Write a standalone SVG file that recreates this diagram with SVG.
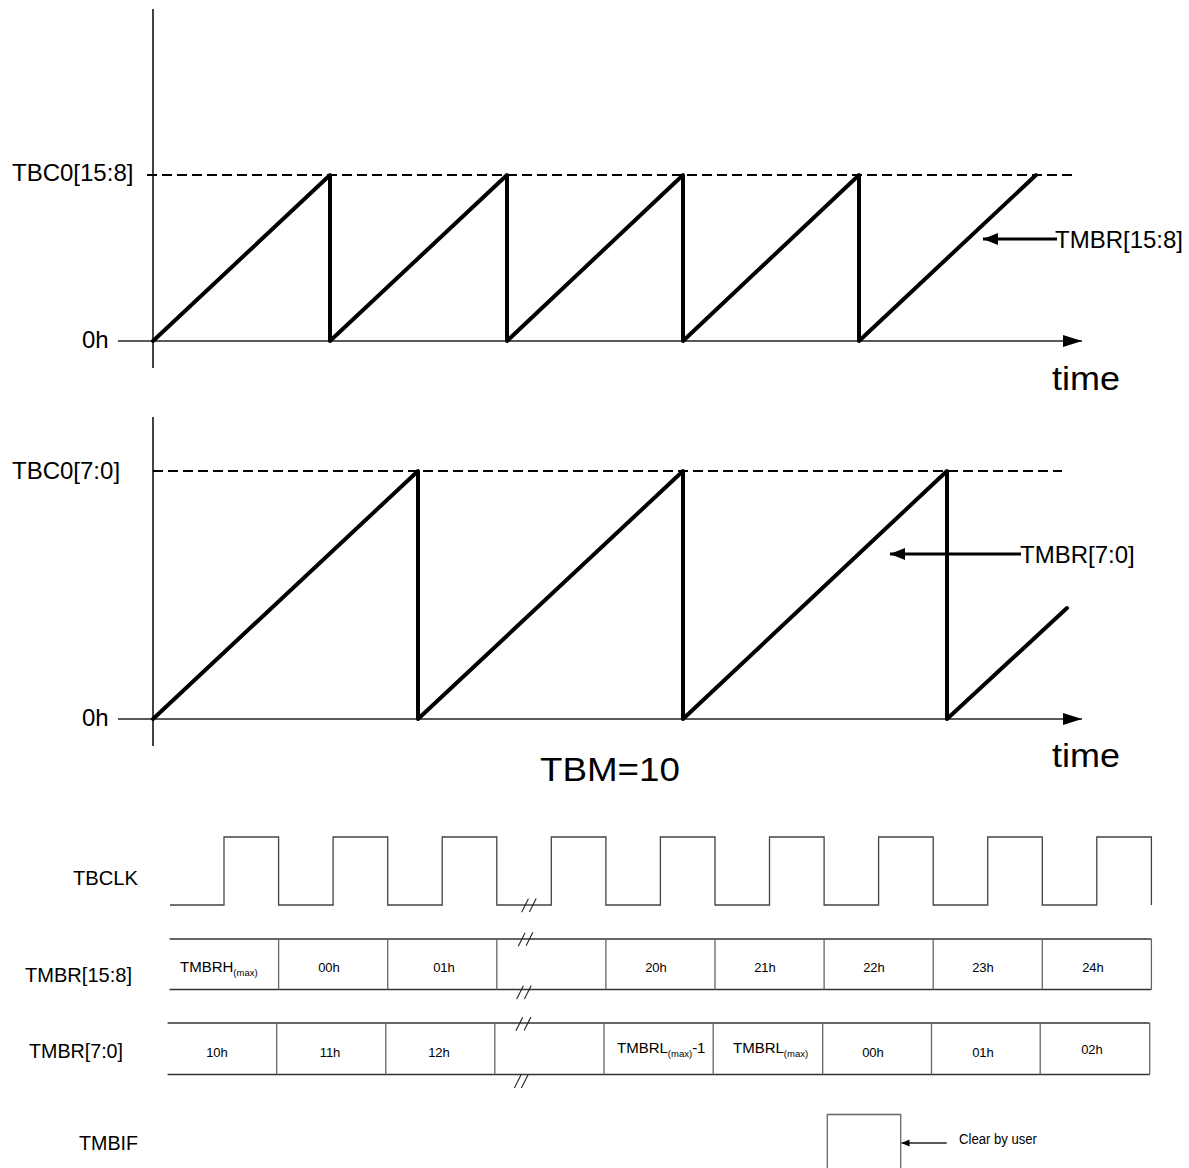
<svg xmlns="http://www.w3.org/2000/svg" width="1189" height="1168" viewBox="0 0 1189 1168">
<style>
text{font-family:"Liberation Sans",Arial,sans-serif;fill:#000}
.ax{stroke:#222;stroke-width:1.7;fill:none}
.dash{stroke:#000;stroke-width:2;stroke-dasharray:10 5;fill:none}
.saw{stroke:#000;stroke-width:4;fill:none;stroke-linejoin:round;stroke-linecap:round}
.lbl{font-size:24px}
.big{font-size:34px}
.sig{stroke:#444;stroke-width:1.3;fill:none}
.bus{stroke:#333;stroke-width:1.3;fill:none}
.div{stroke:#666;stroke-width:1.3;fill:none}
.brk{stroke:#222;stroke-width:1.1;fill:none}
.cell{font-size:13px;text-anchor:middle}
.name{font-size:21px}
</style>
<defs>
<marker id="axArrow" markerUnits="userSpaceOnUse" markerWidth="20" markerHeight="14" refX="19" refY="6" orient="auto"><path d="M0,0 L19,6 L0,12 z" fill="#000"/></marker>
<marker id="lblArrow" markerUnits="userSpaceOnUse" markerWidth="16" markerHeight="14" refX="15" refY="6" orient="auto"><path d="M0,0 L15,6 L0,12 z" fill="#000"/></marker>
<marker id="smArrow" markerUnits="userSpaceOnUse" markerWidth="9" markerHeight="8" refX="8" refY="3.5" orient="auto"><path d="M0,0 L8,3.5 L0,7 z" fill="#000"/></marker>
<path id="slash" d="M-3.4,6.8 L3.4,-6.8"/>
</defs>

<g id="chart-high">
<line class="ax" x1="153" y1="9" x2="153" y2="368"/>
<line class="ax" x1="118" y1="341" x2="1082" y2="341" marker-end="url(#axArrow)"/>
<line class="dash" x1="147" y1="175" x2="1072" y2="175"/>
<polyline class="saw" points="153,341 330,175 330,341 507,175 507,341 683,175 683,341 859,175 859,341 1036,175"/>
<text class="lbl" x="12" y="181">TBC0[15:8]</text>
<text class="lbl" x="82" y="348">0h</text>
<text class="big" x="1052" y="390" textLength="68" lengthAdjust="spacingAndGlyphs">time</text>
</g>

<g id="chart-low">
<line class="ax" x1="153" y1="417" x2="153" y2="746"/>
<line class="ax" x1="118" y1="719" x2="1082" y2="719" marker-end="url(#axArrow)"/>
<line class="dash" x1="153" y1="471" x2="1062" y2="471"/>
<polyline class="saw" points="153,719 418,471 418,719 683,471 683,719 947,471 947,719 1067,608"/>
<text class="lbl" x="12" y="479">TBC0[7:0]</text>
<text class="lbl" x="82" y="726">0h</text>
<text class="big" x="1052" y="767" textLength="68" lengthAdjust="spacingAndGlyphs">time</text>
<text class="big" x="540" y="781" textLength="140" lengthAdjust="spacingAndGlyphs">TBM=10</text>
</g>

<g id="connectors">
<line x1="1057" y1="239" x2="983" y2="239" stroke="#000" stroke-width="3" marker-end="url(#lblArrow)"/>
<line x1="1021" y1="554" x2="890" y2="554" stroke="#000" stroke-width="3" marker-end="url(#lblArrow)"/>
<line x1="946.7" y1="1143" x2="901.5" y2="1143" stroke="#222" stroke-width="1.3" marker-end="url(#smArrow)"/>
</g>

<g id="label-tmbr-high"><text class="lbl" x="1055" y="248">TMBR[15:8]</text></g>
<g id="label-tmbr-low"><text class="lbl" x="1020" y="563">TMBR[7:0]</text></g>

<g id="tbclk">
<text class="name" x="73" y="885" textLength="65" lengthAdjust="spacingAndGlyphs">TBCLK</text>
<path class="sig" d="M170,905 H224 V837 H278.6 V905 H333.1 V837 H387.7 V905 H442.2 V837 H496.8 V905 H551.3 V837 H605.9 V905 H660.4 V837 H715 V905 H769.5 V837 H824.1 V905 H878.6 V837 H933.2 V905 H987.7 V837 H1042.3 V905 H1096.8 V837 H1151.4 V905"/>
<g class="brk"><use href="#slash" x="525" y="905.5"/><use href="#slash" x="532.8" y="905.3"/></g>
</g>

<g id="tmbr-high-bus">
<text class="name" x="25" y="982" textLength="107" lengthAdjust="spacingAndGlyphs">TMBR[15:8]</text>
<path class="bus" d="M169.5,939 H1151.4 M169.5,989.5 H1151.4"/>
<path class="div" d="M278.6,939 V989.5 M387.7,939 V989.5 M496.8,939 V989.5 M605.9,939 V989.5 M715,939 V989.5 M824.1,939 V989.5 M933.2,939 V989.5 M1042.3,939 V989.5 M1151.4,939 V989.5"/>
<g class="brk"><use href="#slash" x="521.7" y="939.5"/><use href="#slash" x="529.5" y="939"/><use href="#slash" x="520" y="992.5"/><use href="#slash" x="527.8" y="992.2"/></g>
<text x="180" y="972" font-size="15">TMBRH<tspan font-size="9.5" dy="4">(max)</tspan></text>
<text class="cell" x="329" y="972">00h</text>
<text class="cell" x="444" y="972">01h</text>
<text class="cell" x="656" y="972">20h</text>
<text class="cell" x="765" y="972">21h</text>
<text class="cell" x="874" y="972">22h</text>
<text class="cell" x="983" y="972">23h</text>
<text class="cell" x="1093" y="972">24h</text>
</g>

<g id="tmbr-low-bus">
<text class="name" x="29" y="1058" textLength="94" lengthAdjust="spacingAndGlyphs">TMBR[7:0]</text>
<path class="bus" d="M167.6,1023 H1149.7 M167.6,1074.5 H1149.7" stroke="#111"/>
<path class="div" d="M276.7,1023 V1074.5 M385.8,1023 V1074.5 M494.8,1023 V1074.5 M604,1023 V1074.5 M713.2,1023 V1074.5 M822.7,1023 V1074.5 M931.5,1023 V1074.5 M1040.2,1023 V1074.5 M1149.7,1023 V1074.5"/>
<g class="brk"><use href="#slash" x="519.3" y="1024"/><use href="#slash" x="527.5" y="1023.7"/><use href="#slash" x="517.8" y="1081.3"/><use href="#slash" x="524.8" y="1081.3"/></g>
<text class="cell" x="217" y="1057">10h</text>
<text class="cell" x="330" y="1057">11h</text>
<text class="cell" x="439" y="1057">12h</text>
<text x="617" y="1052.5" font-size="15">TMBRL<tspan font-size="9.5" dy="4">(max)</tspan><tspan dy="-4">-1</tspan></text>
<text x="733" y="1052.5" font-size="15">TMBRL<tspan font-size="9.5" dy="4">(max)</tspan></text>
<text class="cell" x="873" y="1057">00h</text>
<text class="cell" x="983" y="1057">01h</text>
<text class="cell" x="1092" y="1054">02h</text>
</g>

<g id="tmbif">
<text class="name" x="79" y="1150" textLength="59" lengthAdjust="spacingAndGlyphs">TMBIF</text>
<path class="div" d="M827.3,1168 V1114.5 H900.7 V1168" stroke="#555"/>
<text x="959" y="1144" font-size="14" textLength="78" lengthAdjust="spacingAndGlyphs">Clear by user</text>
</g>
</svg>
